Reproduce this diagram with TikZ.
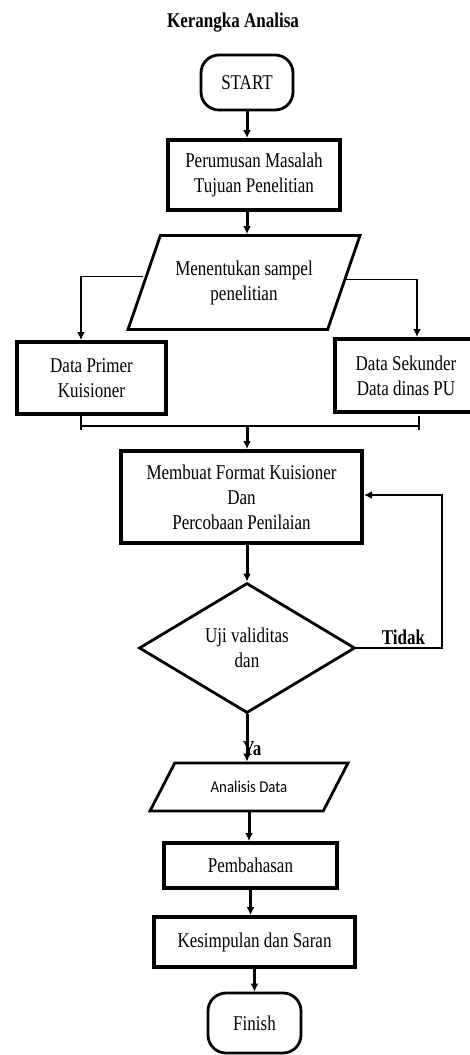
\documentclass[tikz,border=0pt]{standalone}
\usepackage{fontspec}
\setmainfont{Liberation Serif}[FakeStretch=0.81]
\newfontfamily\calfont{Carlito}[FakeStretch=0.9]
\usetikzlibrary{shapes.geometric,arrows.meta}

\begin{document}
\begin{tikzpicture}[x=1pt,y=-1pt]
\tikzstyle{every node}=[align=center, inner sep=0pt]
\tikzstyle{term}=[rectangle, rounded corners=18pt, draw=black, line width=2.8pt]
\tikzstyle{proc}=[rectangle, draw=black, line width=4pt]
\tikzstyle{io}=[trapezium, trapezium stretches body, draw=black, line width=2.8pt]
\tikzstyle{decide}=[diamond, aspect=1.66, draw=black, line width=2.8pt]
\tikzstyle{connect}=[-{Latex[length=8pt,width=8pt]}, line width=3pt]
\tikzstyle{link}=[line width=1.8pt]
\tikzstyle{linkarrow}=[-{Latex[length=8pt,width=8pt]}, line width=1.8pt]
\fontsize{21}{25}\selectfont
\useasboundingbox (0,0) rectangle (470,1055);
  \node[font=\bfseries] (title) at (233,23) {Kerangka Analisa};
  \node[term, minimum width=92pt, minimum height=55pt] (start) at (247,82.5) {START};
  \node[proc, minimum width=172pt, minimum height=70pt] (problem) at (254,175) {Perumusan Masalah\\Tujuan Penelitian};
  \node[io, inner ysep=25pt, trapezium left angle=71, trapezium right angle=109, minimum width=232pt, minimum height=93pt] (sample) at (244,282.5) {Menentukan sampel\\penelitian};
  \node[proc, minimum width=149pt, minimum height=72pt] (primer) at (91.5,378) {Data Primer\\Kuisioner};
  \node[proc, minimum width=142pt, minimum height=73pt] (sekunder) at (406,375.5) {Data Sekunder\\Data dinas PU};
  \node[proc, minimum width=241pt, minimum height=92pt] (format) at (241.5,497) {Membuat Format Kuisioner\\Dan\\Percobaan Penilaian};
  \node[decide, minimum width=216pt, minimum height=130pt] (check) at (247,648) {Uji validitas\\dan};
  \node[io, inner ysep=18pt, trapezium left angle=62.5, trapezium right angle=117.5, minimum width=198pt, minimum height=48pt, font=\calfont\fontsize{16.5}{18}\selectfont] (analysis) at (249,787) {Analisis Data};
  \node[proc, minimum width=173pt, minimum height=45pt] (discuss) at (250.5,865.5) {Pembahasan};
  \node[proc, minimum width=201pt, minimum height=50pt] (conclude) at (254.5,942) {Kesimpulan dan Saran};
  \node[term, minimum width=93pt, minimum height=60pt] (finish) at (254.5,1023) {Finish};
  % join and loop points
  \coordinate (jl) at (81,426);
  \coordinate (jr) at (419,426);
  \coordinate (jc) at (247,426);
  \coordinate (loop) at (442,495);
  \draw[connect] (start.south) -- (start.south |- problem.north);
  \draw[connect] (problem.south -| jc) -- (jc |- sample.north);
  \draw[linkarrow] ([yshift=6pt]sample.west) -| (primer.north -| jl);
  \draw[linkarrow] ([yshift=3pt]sample.east) -| ([xshift=-2pt]sekunder.north -| jr);
  \draw[link] ([yshift=10pt]jl) -- ([yshift=-4pt]jl)
              ([yshift=10pt]jr) -- ([yshift=-4pt]jr)
              (jl) -- (jr);
  \draw[connect] (jc) -- (jc |- format.north);
  \draw[connect] (format.south -| check.north) -- (check.north);
  \draw[linkarrow] (check.east) -- node[above=2pt, pos=0.55, font=\bfseries] {Tidak} (check.east -| loop) -- (loop) -- (format.east |- loop);
  \draw[connect] (check.south) -- node[pos=0.72, xshift=5pt, font=\bfseries] {Ya} (check.south |- analysis.north);
  \draw[connect] (analysis.south) -- (analysis.south |- discuss.north);
  \draw[connect] (discuss.south) -- (discuss.south |- conclude.north);
  \draw[connect] (conclude.south -| finish.north) -- (finish.north);
\end{tikzpicture}
\end{document}
